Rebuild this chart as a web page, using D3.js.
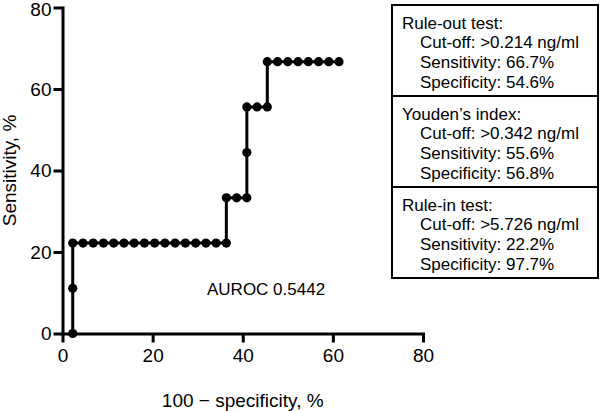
<!DOCTYPE html>
<html>
<head>
<meta charset="utf-8">
<script src="https://cdn.jsdelivr.net/npm/d3@7"></script>
<style>
  body { margin: 0; background: #fff; }
  svg { display: block; font-family: "Liberation Sans", Arial, sans-serif; }
</style>
</head>
<body>
<svg id="chart" width="600" height="411"></svg>
<script>
// 100 - specificity (%) and sensitivity (%) for each ROC point
const fprValues = [2.27, 2.27, 2.27, 4.55, 6.82, 9.09, 11.36, 13.64, 15.91, 18.18, 20.45, 22.73, 25.0, 27.27, 29.55, 31.82, 34.09, 36.36,
                   36.36, 38.64, 40.91, 40.91, 40.91, 43.18, 45.45, 45.45, 47.73, 50.0, 52.27, 54.55, 56.82, 59.09, 61.36];
const sensValues = [0, 11.1, 22.2, 22.2, 22.2, 22.2, 22.2, 22.2, 22.2, 22.2, 22.2, 22.2, 22.2, 22.2, 22.2, 22.2, 22.2, 22.2,
                    33.3, 33.3, 33.3, 44.4, 55.6, 55.6, 55.6, 66.7, 66.7, 66.7, 66.7, 66.7, 66.7, 66.7, 66.7];
const xTicks = [0, 20, 40, 60, 80];
const yTicks = [0, 20, 40, 60, 80];
const aurocLabel = "AUROC 0.5442";
const xTitle = "100 \u2212 specificity, %";
const yTitle = "Sensitivity, %";
const legendTitles = ["Rule-out test:", "Youden\u2019s index:", "Rule-in test:"];
const legendCutoffs = [">0.214 ng/ml", ">0.342 ng/ml", ">5.726 ng/ml"];
const legendSens = ["66.7%", "55.6%", "22.2%"];
const legendSpec = ["54.6%", "56.8%", "97.7%"];

const svg = d3.select("#chart");
const x = d3.scaleLinear().domain([0, 80]).range([62.5, 423]);
const y = d3.scaleLinear().domain([0, 80]).range([333.5, 7.5]);
const fontSize = 17;
const tickFont = 19;
const titleFont = 19;

// Axes
const xAxis = d3.axisBottom(x).tickValues(xTicks).tickSize(9).tickSizeOuter(0).tickPadding(6);
const yAxis = d3.axisLeft(y).tickValues(yTicks).tickSize(9).tickSizeOuter(0).tickPadding(2);

const gx = svg.append("g").attr("transform", `translate(0,${y(0)})`).call(xAxis);
const gy = svg.append("g").attr("transform", `translate(${x(0)},0)`).call(yAxis);
[gx, gy].forEach(g => {
  g.selectAll("path.domain").attr("stroke", "#000").attr("stroke-width", 3).attr("stroke-linecap", "square");
  g.selectAll(".tick line").attr("stroke", "#000").attr("stroke-width", 3);
  g.selectAll(".tick text").attr("fill", "#000").style("font-size", tickFont + "px")
    .style("font-family", '"Liberation Sans", Arial, sans-serif');
});
gy.selectAll(".tick text").filter(d => d === 80).attr("dy", "0.42em");

// ROC line
const pts = fprValues.map((v, i) => [v, sensValues[i]]);
svg.append("path")
  .datum(pts)
  .attr("fill", "none")
  .attr("stroke", "#000")
  .attr("stroke-width", 3)
  .attr("d", d3.line().x(d => x(d[0])).y(d => y(d[1])));

svg.append("g").selectAll("circle")
  .data(pts)
  .join("circle")
  .attr("cx", d => x(d[0]))
  .attr("cy", d => y(d[1]))
  .attr("r", 4.6)
  .attr("fill", "#000");

// AUROC label
svg.append("text").attr("x", 207).attr("y", 295).style("font-size", fontSize + "px").text(aurocLabel);

// Axis titles
svg.append("text").attr("x", (x(0) + x(80)) / 2).attr("y", 407).attr("text-anchor", "middle")
  .style("font-size", titleFont + "px").text(xTitle);
svg.append("text").attr("transform", `translate(16,${(y(0) + y(80)) / 2}) rotate(-90)`).attr("text-anchor", "middle")
  .style("font-size", titleFont + "px").text(yTitle);

// Legend box
const boxX = 392, boxY = 5, boxW = 206, blockH = 91;
const lg = svg.append("g");
lg.append("rect").attr("x", boxX).attr("y", boxY).attr("width", boxW).attr("height", blockH * 3)
  .attr("fill", "#fff").attr("stroke", "#000").attr("stroke-width", 2);
for (let i = 1; i < 3; i++) {
  lg.append("line").attr("x1", boxX).attr("x2", boxX + boxW)
    .attr("y1", boxY + blockH * i).attr("y2", boxY + blockH * i)
    .attr("stroke", "#000").attr("stroke-width", 2);
}
legendTitles.forEach((t, i) => {
  const top = boxY + blockH * i;
  const lines = [
    [t, 402],
    ["Cut-off: " + legendCutoffs[i], 420],
    ["Sensitivity: " + legendSens[i], 420],
    ["Specificity: " + legendSpec[i], 420]
  ];
  lines.forEach((l, j) => {
    lg.append("text").attr("x", l[1]).attr("y", top + 23.5 + j * 19.8)
      .style("font-size", fontSize + "px").text(l[0]);
  });
});
</script>
</body>
</html>
